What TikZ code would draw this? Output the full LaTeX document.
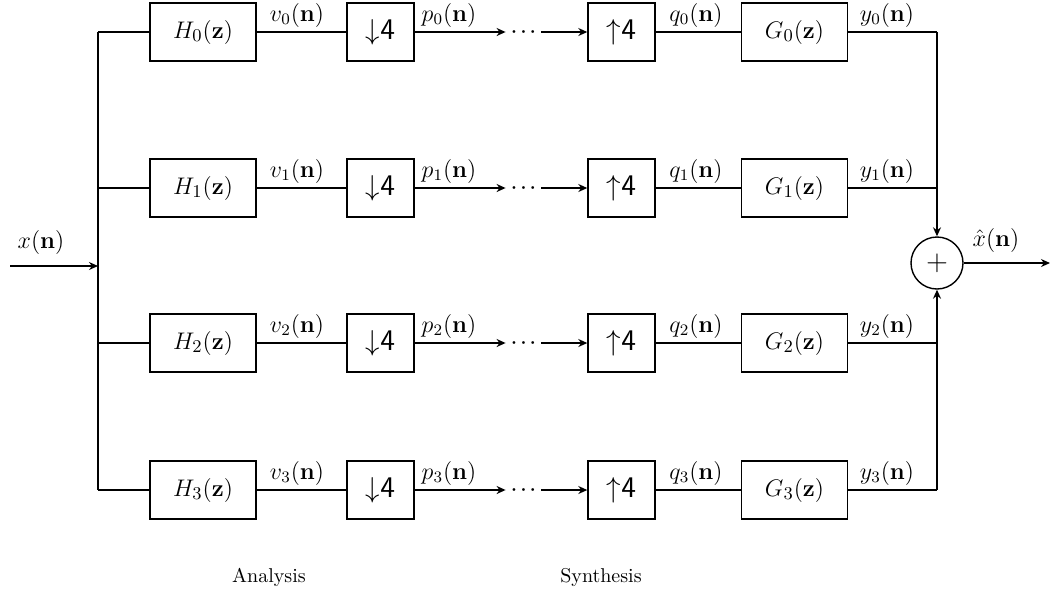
\documentclass[tikz,border=0pt]{standalone}
\usetikzlibrary{arrows.meta}
\tikzset{
  blk/.style={draw, line width=0.7pt, minimum width=53pt, minimum height=29pt, inner sep=0pt, font=\fontsize{13}{15}\selectfont},
  smallblk/.style={blk, minimum width=33.5pt, font=\fontsize{15}{17}\selectfont},
  lbl/.style={font=\fontsize{12}{14}\selectfont, inner sep=0pt},
  dotsnode/.style={minimum width=17.5pt, inner sep=0pt, font=\fontsize{9}{10}\selectfont\boldmath},
  conn/.style={line width=0.7pt},
  arr/.style={conn, -{Stealth[length=4.5pt,width=4pt]}},
  capt/.style={font=\fontsize{10}{12}\selectfont, inner sep=0pt},
  sumnode/.style={draw, circle, line width=0.7pt, minimum size=26pt, inner sep=0pt, font=\fontsize{14}{16}\selectfont},
}
\begin{document}
\begin{tikzpicture}[x=0.5pt,y=-0.5pt]
\useasboundingbox (0,0) rectangle (1051,596);
\foreach \k/\y in {0/32,1/188,2/343,3/490}{
  \node[blk] (H\k) at (203,\y) {$H_\k(\mathbf{z})$};
  \node[smallblk] (D\k) at (380.5,\y) {$\downarrow$\textsf{4}};
  \node[dotsnode] (dots\k) at (523.5,\y) {$\cdots$};
  \node[smallblk] (U\k) at (621.5,\y) {$\uparrow$\textsf{4}};
  \node[blk] (G\k) at (794.5,\y) {$G_\k(\mathbf{z})$};
  \coordinate (b\k) at (98,\y);
  \coordinate (r\k) at (937,\y);
  \draw[conn] (b\k) -- (H\k.west);
  \draw[conn] (H\k.east) -- (D\k.west);
  \draw[arr] (D\k.east) -- (dots\k.west);
  \draw[arr] (dots\k.east) -- (U\k.west);
  \draw[conn] (U\k.east) -- (G\k.west);
  \draw[conn] (G\k.east) -- (r\k);
  \node[lbl] (v\k) at (297,\y-17) {$v_\k(\mathbf{n})$};
  \node[lbl] (p\k) at (449,\y-17) {$p_\k(\mathbf{n})$};
  \node[lbl] (q\k) at (696,\y-17) {$q_\k(\mathbf{n})$};
  \node[lbl] (y\k) at (887,\y-17) {$y_\k(\mathbf{n})$};
}
\draw[conn] (b0) -- (b3);
\coordinate (in) at (10,266);
\coordinate (bin) at (98,266);
\draw[arr] (in) -- (bin);
\node[lbl] (xl) at (41,242) {$x(\mathbf{n})$};
\node[sumnode] (sum) at (937,263) {$+$};
\draw[arr] (r0) -- (sum.north);
\draw[arr] (r3) -- (sum.south);
\coordinate (out) at (1050,263);
\draw[arr] (sum.east) -- (out);
\node[lbl] (xh) at (996,240) {$\hat{x}(\mathbf{n})$};
\node[capt] (an) at (269,577) {Analysis};
\node[capt] (sy) at (601,577) {Synthesis};
\end{tikzpicture}
\end{document}
